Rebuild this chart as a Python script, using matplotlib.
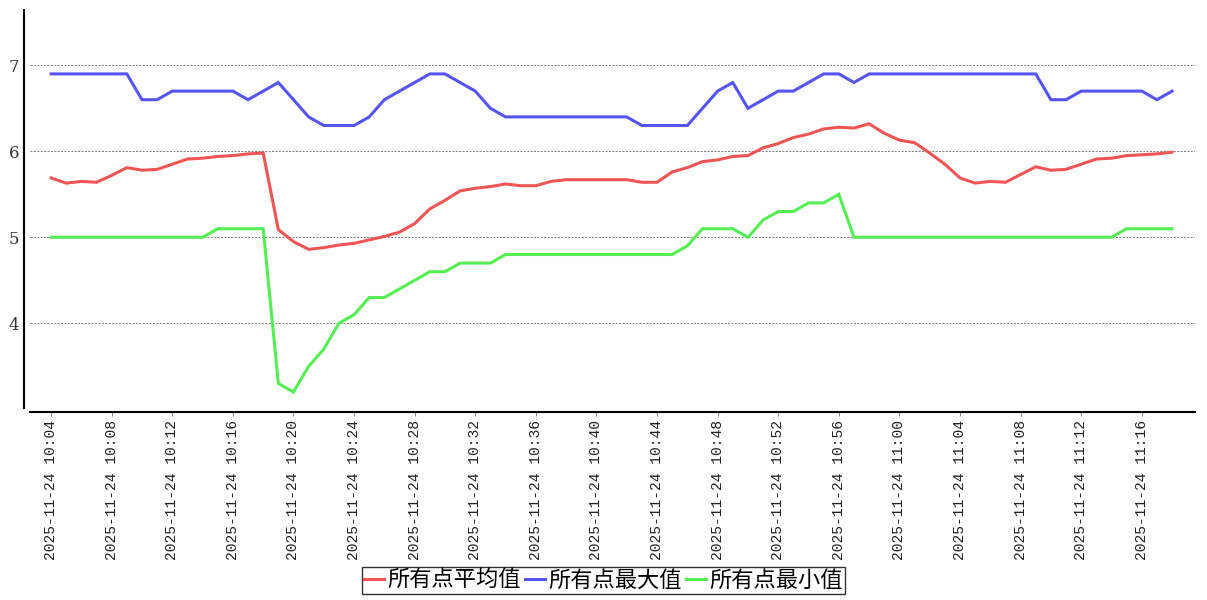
import matplotlib
matplotlib.use('Agg')
import matplotlib.pyplot as plt
import pandas as pd

# minute labels 10:04 .. 11:18
times = pd.date_range('2025-11-24 10:04', '2025-11-24 11:18', freq='min')
time_labels = [t.strftime('%Y-%m-%d %H:%M') for t in times]

avg_vals = [5.69, 5.63, 5.65, 5.64, 5.72, 5.81, 5.78, 5.79, 5.85, 5.91,
            5.92, 5.94, 5.95, 5.97, 5.98, 5.09, 4.95, 4.86, 4.88, 4.91,
            4.93, 4.97, 5.01, 5.06, 5.16, 5.33, 5.43, 5.54, 5.57, 5.59,
            5.62, 5.60, 5.60, 5.65, 5.67, 5.67, 5.67, 5.67, 5.67, 5.64,
            5.64, 5.76, 5.81, 5.88, 5.90, 5.94, 5.95, 6.04, 6.09, 6.16,
            6.20, 6.26, 6.28, 6.27, 6.32, 6.21, 6.13, 6.10, 5.98, 5.85,
            5.69, 5.63, 5.65, 5.64, 5.73, 5.82, 5.78, 5.79, 5.85, 5.91,
            5.92, 5.95, 5.96, 5.97, 5.99]
max_vals = [6.9, 6.9, 6.9, 6.9, 6.9, 6.9, 6.6, 6.6, 6.7, 6.7,
            6.7, 6.7, 6.7, 6.6, 6.7, 6.8, 6.6, 6.4, 6.3, 6.3,
            6.3, 6.4, 6.6, 6.7, 6.8, 6.9, 6.9, 6.8, 6.7, 6.5,
            6.4, 6.4, 6.4, 6.4, 6.4, 6.4, 6.4, 6.4, 6.4, 6.3,
            6.3, 6.3, 6.3, 6.5, 6.7, 6.8, 6.5, 6.6, 6.7, 6.7,
            6.8, 6.9, 6.9, 6.8, 6.9, 6.9, 6.9, 6.9, 6.9, 6.9,
            6.9, 6.9, 6.9, 6.9, 6.9, 6.9, 6.6, 6.6, 6.7, 6.7,
            6.7, 6.7, 6.7, 6.6, 6.7]
min_vals = [5.0, 5.0, 5.0, 5.0, 5.0, 5.0, 5.0, 5.0, 5.0, 5.0,
            5.0, 5.1, 5.1, 5.1, 5.1, 3.3, 3.2, 3.5, 3.7, 4.0,
            4.1, 4.3, 4.3, 4.4, 4.5, 4.6, 4.6, 4.7, 4.7, 4.7,
            4.8, 4.8, 4.8, 4.8, 4.8, 4.8, 4.8, 4.8, 4.8, 4.8,
            4.8, 4.8, 4.9, 5.1, 5.1, 5.1, 5.0, 5.2, 5.3, 5.3,
            5.4, 5.4, 5.5, 5.0, 5.0, 5.0, 5.0, 5.0, 5.0, 5.0,
            5.0, 5.0, 5.0, 5.0, 5.0, 5.0, 5.0, 5.0, 5.0, 5.0,
            5.0, 5.1, 5.1, 5.1, 5.1]
series_names = ['所有点平均值', '所有点最大值', '所有点最小值']
colors = ['#ee5555', '#5555ee', '#55ee55']

fig = plt.figure(figsize=(12.07, 6.0), dpi=100)
ax = fig.add_axes([0.0249, 0.32, 0.965, 0.6633])

x = list(range(len(time_labels)))
for vals, name, c in zip([avg_vals, max_vals, min_vals], series_names, colors):
    ax.plot(x, vals, color=c, lw=2.2, label=name, solid_joinstyle='miter')

ax.set_xlim(-1.39, 75.5)
ax.set_ylim(3.015, 7.643)
ax.set_yticks([4, 5, 6, 7])
ax.yaxis.grid(True, color='#777777', linestyle=(0, (2, 1.5)), lw=0.7)
ax.set_axisbelow(True)

ax.set_xticks(x[::4])
ax.set_xticklabels(time_labels[::4])
ax.tick_params(axis='y', length=0, pad=4, labelsize=12,
               labelfontfamily='DejaVu Serif', labelcolor='#333333')
ax.tick_params(axis='x', length=3, width=0.8, color='#888888', pad=3,
               labelrotation=90, labelsize=10.5,
               labelfontfamily='Liberation Mono', labelcolor='#222222')

for s in ['top', 'right']:
    ax.spines[s].set_visible(False)
ax.spines['left'].set_position(('outward', 4))
ax.spines['bottom'].set_position(('outward', 3))
ax.spines['left'].set_linewidth(1.5)
ax.spines['bottom'].set_linewidth(1.5)

leg = fig.legend(loc='center', bbox_to_anchor=(0.5, 0.0325), ncol=3,
                 prop={'family': ['Noto Sans CJK SC', 'DejaVu Sans'], 'size': 16},
                 frameon=True, fancybox=False, edgecolor='black',
                 handlelength=0.9, handletextpad=0.15, columnspacing=0.2,
                 borderpad=0.1, borderaxespad=0)
leg.get_frame().set_linewidth(1.0)

fig.savefig('out.png', dpi=100)
